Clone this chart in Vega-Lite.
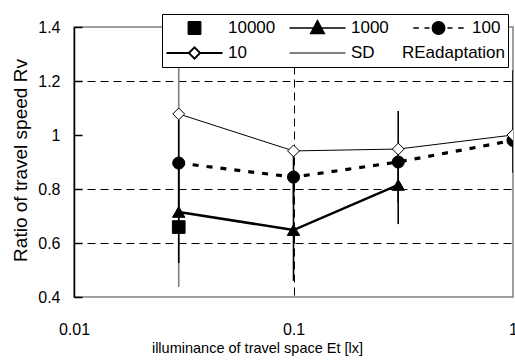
{
  "$schema": "https://vega.github.io/schema/vega-lite/v6.json",
  "width": 439,
  "height": 270,
  "autosize": {"type": "none"},
  "padding": {"left": 74, "top": 27, "right": 2, "bottom": 63},
  "background": "white",
  "config": {
    "font": "Liberation Sans",
    "view": {"stroke": "#808080", "strokeWidth": 1.5}
  },
  "datasets": {
    "speed": [
      {"series": "10000", "E": 0.03, "Rv": 0.659},
      {"series": "1000", "E": 0.03, "Rv": 0.715},
      {"series": "1000", "E": 0.1, "Rv": 0.648},
      {"series": "1000", "E": 0.3, "Rv": 0.815},
      {"series": "100", "E": 0.03, "Rv": 0.896},
      {"series": "100", "E": 0.1, "Rv": 0.844},
      {"series": "100", "E": 0.3, "Rv": 0.9},
      {"series": "100", "E": 1, "Rv": 0.98},
      {"series": "10", "E": 0.03, "Rv": 1.078},
      {"series": "10", "E": 0.1, "Rv": 0.941},
      {"series": "10", "E": 0.3, "Rv": 0.948},
      {"series": "10", "E": 1, "Rv": 1.0}
    ],
    "sd": [
      {"series": "10", "E": 0.03, "lo": 0.437, "hi": 1.72},
      {"series": "1000", "E": 0.03, "lo": 0.526, "hi": 0.905},
      {"series": "100", "E": 0.03, "lo": 0.72, "hi": 1.056},
      {"series": "1000", "E": 0.1, "lo": 0.46, "hi": 0.84},
      {"series": "100", "E": 0.1, "lo": 0.745, "hi": 0.95},
      {"series": "1000", "E": 0.3, "lo": 0.67, "hi": 0.96},
      {"series": "100", "E": 0.3, "lo": 0.75, "hi": 1.089},
      {"series": "100", "E": 1, "lo": 0.86, "hi": 1.24}
    ]
  },
  "resolve": {
    "scale": {
      "color": "independent",
      "fill": "independent",
      "stroke": "independent",
      "strokeWidth": "independent",
      "shape": "independent",
      "size": "independent"
    },
    "legend": {"strokeWidth": "independent"}
  },
  "layer": [
    {
      "mark": {"type": "rule", "color": "#808080", "strokeWidth": 1.5},
      "encoding": {
        "y": {
          "datum": 1,
          "type": "quantitative",
          "scale": {"domain": [0.4, 1.4]},
          "axis": {
            "title": "Ratio of travel speed Rv",
            "titleFont": "Liberation Sans",
            "titleFontSize": 19,
            "titleFontWeight": "normal",
            "titleColor": "black",
            "titleX": -54,
            "titleY": 133,
            "titleAngle": -90,
            "titleAlign": "center",
            "titleBaseline": "middle",
            "values": [0.4, 0.6, 0.8, 1, 1.2, 1.4],
            "format": ".1~f",
            "labelFontSize": 16,
            "labelColor": "black",
            "labelPadding": 22,
            "domainColor": "black",
            "domainWidth": 1.5,
            "tickColor": "black",
            "tickSize": -8,
            "tickWidth": 1.5,
            "grid": true,
            "gridColor": "black",
            "gridDash": [8, 5],
            "gridOpacity": {"condition": {"test": "datum.value < 0.5 || datum.value > 1.3 || abs(datum.value - 1) < 0.01", "value": 0}, "value": 1}
          }
        }
      }
    },
    {
      "data": {"name": "sd"},
      "mark": {"type": "rule", "clip": true, "strokeWidth": 1.6},
      "encoding": {
        "x": {
          "field": "E",
          "type": "quantitative",
          "scale": {"type": "log", "domain": [0.01, 1]},
          "axis": {
            "title": "illuminance of travel space Et [lx]",
            "titleFont": "Liberation Sans",
            "titleFontSize": 14.5,
            "titleFontWeight": "normal",
            "titleColor": "black",
            "titleX": 183,
            "titleY": 44,
            "titleAlign": "center",
            "titleBaseline": "top",
            "values": [0.01, 0.1, 1],
            "format": "~g",
            "labelFontSize": 16,
            "labelColor": "black",
            "labelPadding": 24,
            "labelFlush": false,
            "ticks": false,
            "domain": false,
            "grid": true,
            "gridColor": "black",
            "gridDash": [8, 5],
            "gridOpacity": {"condition": {"test": "datum.value < 0.05 || datum.value > 0.5", "value": 0}, "value": 1}
          }
        },
        "y": {"field": "lo", "type": "quantitative"},
        "y2": {"field": "hi"},
        "color": {
          "field": "series",
          "type": "nominal",
          "scale": {"domain": ["10", "100", "1000"], "range": ["#808080", "black", "black"]},
          "legend": null
        }
      }
    },
    {
      "data": {"name": "speed"},
      "transform": [{"filter": "datum.series === '10'"}],
      "mark": {"type": "line", "color": "black", "strokeWidth": 1, "clip": true},
      "encoding": {
        "x": {"field": "E", "type": "quantitative"},
        "y": {"field": "Rv", "type": "quantitative"}
      }
    },
    {
      "data": {"name": "speed"},
      "transform": [{"filter": "datum.series === '100'"}],
      "mark": {"type": "line", "color": "black", "strokeWidth": 3.2, "strokeDash": [6, 8], "clip": true},
      "encoding": {
        "x": {"field": "E", "type": "quantitative"},
        "y": {"field": "Rv", "type": "quantitative"}
      }
    },
    {
      "data": {"name": "speed"},
      "transform": [{"filter": "datum.series === '1000'"}],
      "mark": {"type": "line", "color": "black", "strokeWidth": 2.5, "clip": true},
      "encoding": {
        "x": {"field": "E", "type": "quantitative"},
        "y": {"field": "Rv", "type": "quantitative"}
      }
    },
    {
      "data": {"name": "speed"},
      "mark": {"type": "point", "stroke": "black", "strokeWidth": 1, "opacity": 1, "fillOpacity": 1, "clip": true},
      "encoding": {
        "x": {"field": "E", "type": "quantitative"},
        "y": {"field": "Rv", "type": "quantitative"},
        "fill": {
          "field": "series",
          "type": "nominal",
          "scale": {"domain": ["10000", "1000", "100", "10"], "range": ["black", "black", "black", "white"]},
          "legend": null
        },
        "size": {
          "field": "series",
          "type": "nominal",
          "scale": {"domain": ["10000", "1000", "100", "10"], "range": [160, 140, 140, 110]},
          "legend": null
        },
        "shape": {
          "field": "series",
          "type": "nominal",
          "scale": {"domain": ["10000", "1000", "100", "10"], "range": ["square", "triangle-up", "circle", "diamond"]},
          "legend": null
        }
      }
    },
    {
      "data": {"name": "speed"},
      "mark": {"type": "point", "opacity": 0, "filled": true},
      "encoding": {
        "x": {"field": "E", "type": "quantitative"},
        "y": {"field": "Rv", "type": "quantitative"},
        "fill": {"field": "series", "type": "nominal", "legend": null},
        "stroke": {"field": "series", "type": "nominal", "legend": null},
        "strokeWidth": {
          "field": "series",
          "type": "nominal",
          "scale": {
            "domain": ["10000", "1000", "100", "10", "SD", "REadaptation"],
            "range": [1, 2.5, 3.5, 1, 1.2, 0]
          },
          "legend": {
            "title": null,
            "orient": "none",
            "legendX": 88,
            "legendY": -13,
            "direction": "horizontal",
            "columns": 3,
            "symbolSize": 3136,
            "symbolOpacity": 1,
            "symbolType": {"expr": "datum.value === '10000' ? 'M-0.23,-0.23H0.23V0.23H-0.23Z' : datum.value === '1000' ? 'M-1,0H1M0,-0.27L0.25,0.2L-0.25,0.2Z' : datum.value === '100' ? 'M-0.9,0H-0.7M-0.5,0H-0.32M0.32,0H0.5M0.7,0H0.9M-0.22,0A0.22,0.22,0,1,0,0.22,0A0.22,0.22,0,1,0,-0.22,0Z' : datum.value === '10' ? 'M-1,0H-0.2M0.2,0H1M-0.2,0L0,-0.2L0.2,0L0,0.2Z' : datum.value === 'SD' ? 'M-1,0H1' : 'M0,0'"},
            "symbolFillColor": {"expr": "datum.value === '10' ? 'white' : 'black'"},
            "symbolStrokeColor": {"expr": "datum.value === 'SD' ? '#808080' : 'black'"},
            "clipHeight": 22,
            "rowPadding": 3,
            "columnPadding": 12,
            "padding": 3,
            "fillColor": "white",
            "strokeColor": "black",
            "labelFont": "Liberation Sans",
            "labelFontSize": 17,
            "labelColor": "black",
            "labelAlign": {"expr": "datum.value === 'REadaptation' ? 'right' : 'left'"},
            "labelOffset": {"expr": "datum.value === 'REadaptation' ? 37 : 4"}
          }
        }
      }
    }
  ]
}
